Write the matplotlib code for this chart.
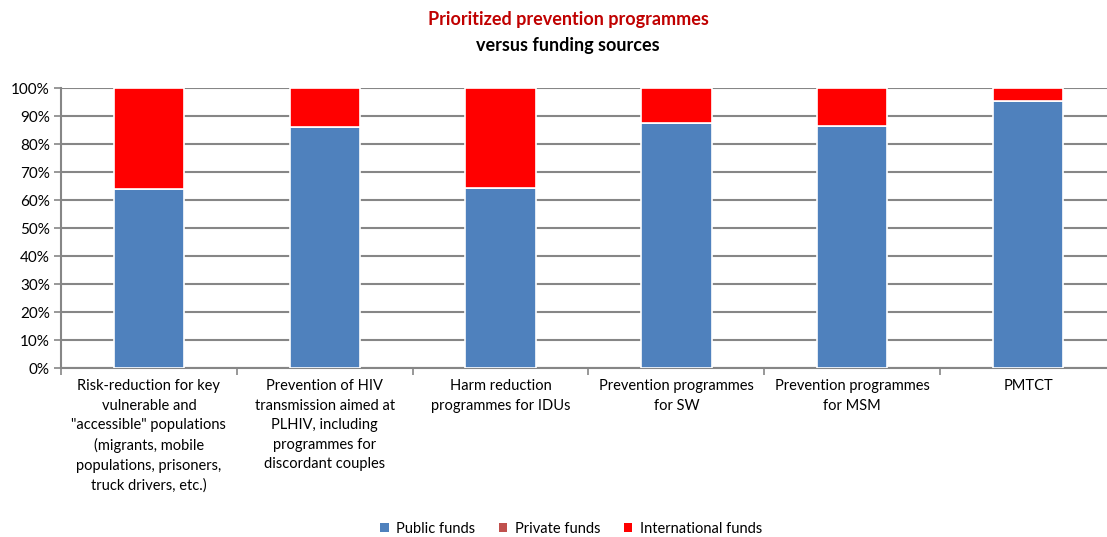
import numpy as np
import matplotlib.pyplot as plt
from matplotlib.patches import Patch

plt.rcParams['font.family'] = ['Lato', 'DejaVu Sans']

CATEGORIES = [
    'Risk-reduction for key\nvulnerable and\n"accessible" populations\n(migrants, mobile\npopulations, prisoners,\ntruck drivers, etc.)',
    'Prevention of HIV\ntransmission aimed at\nPLHIV, including\nprogrammes for\ndiscordant couples',
    'Harm reduction\nprogrammes for IDUs',
    'Prevention programmes\nfor SW',
    'Prevention programmes\nfor MSM',
    'PMTCT',
]
PUBLIC        = [64.0, 86.0, 64.3, 87.5, 86.5, 95.3]
PRIVATE       = [0.0, 0.0, 0.0, 0.0, 0.0, 0.0]
INTERNATIONAL = [36.0, 14.0, 35.7, 12.5, 13.5, 4.7]
SERIES = ['Public funds', 'Private funds', 'International funds']
COLORS = ['#4F81BD', '#C0504D', '#FF0000']
GRID = '#868686'

fig = plt.figure(figsize=(11.07, 5.37), dpi=100)
ax = fig.add_axes([61 / 1107, 1 - 368 / 537, 1055 / 1107, 280 / 537])

x = np.arange(len(CATEGORIES))
bottom = np.zeros(len(CATEGORIES))
for vals, col in zip([PUBLIC, PRIVATE, INTERNATIONAL], COLORS):
    ax.bar(x, vals, 0.4, bottom=bottom, color=col, edgecolor='white', linewidth=1.2, zorder=3)
    bottom += np.array(vals)

ax.set_xlim(-0.5, len(CATEGORIES) - 0.5)
ax.set_ylim(0, 100)
ax.set_yticks(np.arange(0, 101, 10))
ax.set_yticklabels([f'{v}%' for v in range(0, 101, 10)], fontsize=11)
ax.yaxis.grid(True, color=GRID, linewidth=1.5, zorder=0)
ax.tick_params(axis='y', length=5, color=GRID, width=1.2, pad=3)

ax.set_xticks(x)
ax.set_xticklabels(CATEGORIES, fontsize=10.5, linespacing=1.5, va='top')
ax.tick_params(axis='x', length=0, pad=8)
ax.set_xticks(np.arange(-0.5, len(CATEGORIES), 1), minor=True)
ax.tick_params(axis='x', which='minor', length=5, color=GRID, width=1.2)

for s in ['top', 'right']:
    ax.spines[s].set_visible(False)
for s in ['left', 'bottom']:
    ax.spines[s].set_color(GRID)
    ax.spines[s].set_linewidth(1.5)

fig.text(568 / 1107, 1 - 20 / 537, 'Prioritized prevention programmes', color='#C00000',
         fontsize=13, fontweight='bold', ha='center', va='center')
fig.text(568 / 1107, 1 - 45 / 537, 'versus funding sources', color='black',
         fontsize=13, fontweight='bold', ha='center', va='center')

handles = [Patch(facecolor=c, edgecolor='none') for c in COLORS]
fig.legend(handles, SERIES, loc='center', bbox_to_anchor=(571 / 1107, 1 - 529 / 537), ncol=3,
           frameon=False, fontsize=10.5, handlelength=0.6, handleheight=0.6,
           handletextpad=0.5, columnspacing=1.6)

fig.savefig('out.png', dpi=100)
